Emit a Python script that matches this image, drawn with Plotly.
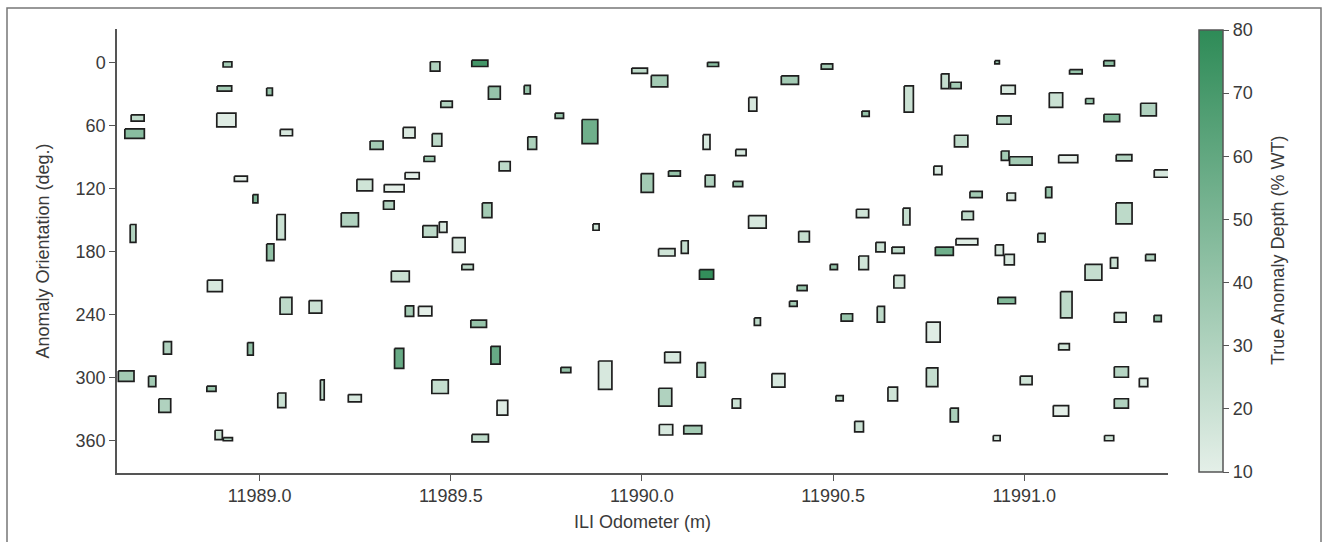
import plotly.graph_objects as go
from plotly.colors import sample_colorscale

# ---- data: anomaly boxes (centre odometer m, axial length m, centre orientation deg, angular extent deg, depth %WT)
odometer = [11988.916, 11988.908, 11989.026, 11988.681, 11988.673, 11988.913, 11989.070, 11989.306, 11988.951, 11988.989,
            11989.275, 11989.056, 11989.236, 11988.669, 11989.028, 11988.883, 11989.069, 11989.146, 11988.759, 11988.976,
            11988.651, 11988.719, 11988.874, 11989.164, 11989.058, 11989.249, 11988.752, 11988.893, 11988.917, 11989.459,
            11989.576, 11989.614, 11989.700, 11989.489, 11989.784, 11989.864, 11989.391, 11989.464, 11989.713, 11989.444,
            11989.641, 11989.399, 11989.352, 11989.338, 11989.595, 11989.446, 11989.480, 11989.521, 11989.880, 11989.994,
            11990.046, 11990.186, 11990.484, 11990.387, 11990.290, 11990.585, 11990.169, 11990.259, 11990.014, 11990.085,
            11990.178, 11990.251, 11990.302, 11990.577, 11990.424, 11990.065, 11990.112, 11990.624, 11990.670, 11990.929,
            11991.222, 11991.135, 11990.793, 11990.821, 11990.958, 11990.698, 11991.083, 11991.171, 11991.325, 11990.947,
            11991.229, 11990.835, 11990.950, 11990.991, 11991.115, 11991.261, 11991.366, 11990.774, 11990.874, 11990.966,
            11991.064, 11990.692, 11990.852, 11991.261, 11991.045, 11990.791, 11990.850, 11990.935, 11990.961, 11991.330,
            11991.181, 11991.235, 11990.673, 11990.954, 11991.110, 11991.251, 11991.349, 11990.762, 11991.104, 11990.759,
            11991.005, 11991.254, 11991.312, 11990.656, 11990.817, 11991.096, 11991.254, 11990.928, 11991.222, 11990.169,
            11990.419, 11990.396, 11990.302, 11990.536, 11990.625, 11990.580, 11990.080, 11990.155, 11990.357, 11990.061,
            11990.247, 11990.517, 11990.568, 11990.063, 11990.133, 11989.544, 11990.502, 11989.368, 11989.392, 11989.433,
            11989.573, 11989.365, 11989.617, 11989.801, 11989.904, 11989.472, 11989.635, 11989.577]
length_m = [0.023, 0.038, 0.015, 0.034, 0.051, 0.050, 0.032, 0.034, 0.034, 0.013,
            0.041, 0.022, 0.045, 0.015, 0.019, 0.039, 0.031, 0.033, 0.021, 0.015,
            0.041, 0.019, 0.024, 0.010, 0.021, 0.034, 0.031, 0.019, 0.024, 0.025,
            0.042, 0.031, 0.016, 0.030, 0.022, 0.041, 0.031, 0.025, 0.023, 0.028,
            0.029, 0.037, 0.052, 0.028, 0.025, 0.038, 0.020, 0.033, 0.016, 0.041,
            0.043, 0.029, 0.030, 0.045, 0.021, 0.019, 0.018, 0.027, 0.032, 0.031,
            0.025, 0.025, 0.046, 0.032, 0.028, 0.043, 0.018, 0.024, 0.032, 0.012,
            0.028, 0.033, 0.020, 0.028, 0.037, 0.024, 0.035, 0.021, 0.041, 0.037,
            0.041, 0.035, 0.020, 0.059, 0.050, 0.041, 0.052, 0.021, 0.032, 0.022,
            0.016, 0.018, 0.030, 0.042, 0.019, 0.047, 0.057, 0.021, 0.026, 0.025,
            0.044, 0.019, 0.028, 0.046, 0.030, 0.031, 0.019, 0.036, 0.028, 0.030,
            0.031, 0.037, 0.022, 0.025, 0.021, 0.040, 0.037, 0.018, 0.024, 0.037,
            0.026, 0.020, 0.016, 0.030, 0.019, 0.025, 0.041, 0.022, 0.034, 0.034,
            0.022, 0.019, 0.023, 0.035, 0.047, 0.030, 0.019, 0.047, 0.022, 0.035,
            0.041, 0.024, 0.024, 0.026, 0.035, 0.043, 0.028, 0.043]
orientation = [2, 25, 28, 53, 68, 55, 67, 79, 111, 130,
               117, 157, 150, 163, 181, 213, 232, 233, 272, 273,
               299, 304, 311, 312, 322, 320, 327, 355, 359, 4,
               1, 29, 26, 40, 51, 66, 67, 74, 77, 92,
               99, 108, 120, 136, 141, 161, 157, 174, 157, 8,
               18, 2, 4, 17, 40, 49, 76, 86, 115, 106,
               113, 116, 152, 144, 166, 181, 176, 176, 179, 0,
               1, 9, 18, 22, 26, 35, 36, 37, 45, 55,
               53, 75, 89, 94, 92, 91, 106, 103, 126, 128,
               124, 147, 146, 144, 167, 180, 171, 179, 188, 186,
               200, 191, 209, 227, 231, 243, 244, 257, 271, 300,
               303, 295, 305, 316, 336, 332, 325, 358, 358, 202,
               215, 230, 247, 243, 240, 191, 281, 293, 303, 319,
               325, 320, 347, 350, 350, 195, 195, 204, 237, 237,
               249, 282, 279, 293, 298, 309, 329, 358]
extent_deg = [5, 5, 7, 6, 9, 13, 6, 8, 5, 8,
              11, 24, 13, 17, 16, 11, 16, 12, 12, 12,
              10, 10, 5, 19, 14, 7, 13, 9, 3, 9,
              6, 12, 8, 6, 5, 23, 10, 12, 12, 5,
              9, 6, 7, 8, 14, 11, 10, 14, 6, 5,
              11, 4, 5, 8, 13, 5, 14, 6, 18, 5,
              11, 5, 12, 8, 10, 7, 12, 9, 6, 3,
              5, 4, 14, 6, 8, 25, 14, 5, 12, 8,
              7, 11, 9, 8, 7, 6, 7, 8, 6, 7,
              10, 16, 8, 20, 8, 8, 6, 10, 10, 6,
              15, 10, 12, 6, 25, 9, 6, 19, 6, 18,
              8, 10, 8, 13, 13, 10, 9, 5, 5, 9,
              5, 5, 7, 7, 15, 13, 10, 14, 13, 17,
              9, 5, 10, 10, 8, 5, 5, 10, 10, 9,
              7, 19, 17, 5, 27, 13, 14, 7]
depth = [35, 35, 40, 25, 45, 12, 15, 35, 10, 50,
         18, 20, 30, 30, 42, 15, 25, 20, 30, 42,
         35, 35, 40, 25, 20, 15, 30, 20, 30, 30,
         72, 40, 40, 30, 40, 55, 14, 25, 32, 40,
         25, 10, 10, 30, 35, 25, 15, 15, 20, 25,
         35, 45, 35, 35, 15, 40, 15, 15, 35, 40,
         30, 40, 15, 18, 22, 18, 22, 20, 25, 40,
         45, 40, 22, 35, 15, 20, 20, 40, 30, 30,
         48, 25, 35, 35, 10, 30, 15, 15, 35, 15,
         40, 22, 25, 25, 25, 55, 12, 15, 15, 30,
         22, 20, 18, 48, 25, 18, 40, 12, 18, 22,
         18, 28, 15, 18, 32, 10, 30, 15, 20, 78,
         40, 35, 25, 40, 25, 18, 15, 30, 15, 30,
         20, 25, 20, 15, 35, 25, 40, 20, 35, 10,
         40, 58, 58, 40, 15, 22, 12, 25]

x_ticks = [11989.0, 11989.5, 11990.0, 11990.5, 11991.0]
y_ticks = [0, 60, 120, 180, 240, 300, 360]
cb_ticks = [10, 20, 30, 40, 50, 60, 70, 80]
dmin, dmax = 10, 80

colorscale = [[0.0, "#e4efe8"], [1.0, "#2e8b57"]]
FONT = "Liberation Sans, Arial, sans-serif"
TXT = "#3a3a3a"
AX = "#555555"

fig = go.Figure()
for xo, L, yo, E, d in zip(odometer, length_m, orientation, extent_deg, depth):
    t = (min(max(d, dmin), dmax) - dmin) / (dmax - dmin)
    fc = sample_colorscale(colorscale, [t])[0]
    x0, x1 = xo - L / 2, xo + L / 2
    y0, y1 = yo - E / 2, yo + E / 2
    fig.add_trace(go.Scatter(
        x=[x0, x1, x1, x0, x0], y=[y0, y0, y1, y1, y0],
        mode="lines", fill="toself", fillcolor=fc,
        line=dict(color="#1e1e1e", width=1.7),
        hoverinfo="skip", showlegend=False))

# colour bar carrier
fig.add_trace(go.Scatter(
    x=[None], y=[None], mode="markers", showlegend=False, hoverinfo="skip",
    marker=dict(color=[dmin, dmax], cmin=dmin, cmax=dmax, colorscale=colorscale,
                showscale=True,
                colorbar=dict(x=1.0295, xanchor="left", xref="paper",
                              y=0.5, yanchor="middle", len=442, lenmode="pixels",
                              thickness=24, thicknessmode="pixels",
                              outlinecolor=AX, outlinewidth=1.5,
                              tickvals=cb_ticks, ticks="outside", ticklen=6,
                              tickcolor=AX, tickwidth=1.3,
                              tickfont=dict(family=FONT, size=18, color=TXT),
                              ypad=0, xpad=0))))

fig.update_layout(
    width=1328, height=542,
    margin=dict(l=117, r=160, t=29, b=69),
    paper_bgcolor="white", plot_bgcolor="white",
    font=dict(family=FONT, size=18, color=TXT),
    xaxis=dict(range=[11988.627, 11991.376], tickvals=x_ticks, tickformat=".1f",
               showgrid=False, zeroline=False, showline=True, linecolor=AX, linewidth=1.5,
               ticks="outside", ticklen=6, tickcolor=AX, tickwidth=1.3,
               title=dict(text="ILI Odometer (m)", standoff=10,
                          font=dict(family=FONT, size=18, color=TXT)),
               tickfont=dict(family=FONT, size=18, color=TXT)),
    yaxis=dict(range=[391.2, -31.7], tickvals=y_ticks,
               showgrid=False, zeroline=False, showline=True, linecolor=AX, linewidth=1.5,
               ticks="outside", ticklen=6, tickcolor=AX, tickwidth=1.3,
               title=dict(text="Anomaly Orientation (deg.)", standoff=21,
                          font=dict(family=FONT, size=18, color=TXT)),
               tickfont=dict(family=FONT, size=18, color=TXT)),
    annotations=[dict(text="True Anomaly Depth (% WT)", xref="paper", yref="paper",
                      x=(1278 - 117) / 1051, y=0.5, textangle=-90, showarrow=False,
                      xanchor="center", yanchor="middle",
                      font=dict(family=FONT, size=18, color=TXT))],
    shapes=[dict(type="rect", xref="paper", yref="paper",
                 x0=(7 - 117) / 1051, x1=(1321 - 117) / 1051,
                 y0=-0.3, y1=(473 - 8) / 444,
                 line=dict(color="#777777", width=1.5), fillcolor="rgba(0,0,0,0)", layer="below")],
)

fig.write_html("out.html")
